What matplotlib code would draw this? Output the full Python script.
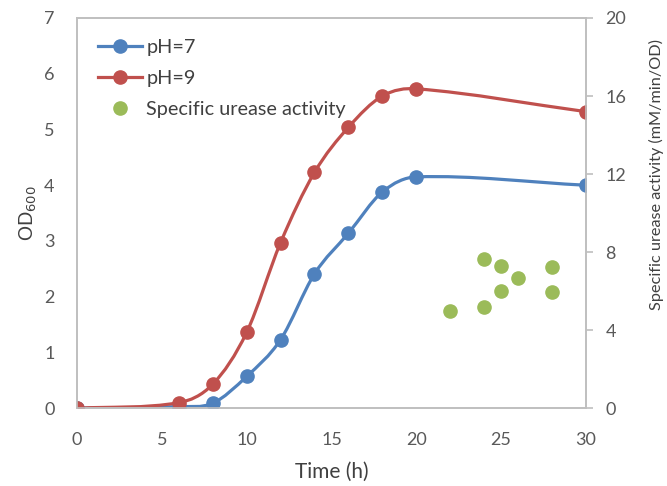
import numpy as np
import matplotlib
matplotlib.use("Agg")
from matplotlib import pyplot as plt
from matplotlib.path import Path
from matplotlib.patches import PathPatch
from matplotlib.lines import Line2D

# growth curves (OD600)
time_h = [0, 6, 8, 10, 12, 14, 16, 18, 20, 30]
od_ph7 = [0.0, 0.03, 0.09, 0.57, 1.23, 2.41, 3.14, 3.88, 4.15, 4.0]
od_ph9 = [0.0, 0.1, 0.43, 1.36, 2.97, 4.23, 5.04, 5.6, 5.73, 5.32]

# specific urease activity (mM/min/OD)
act_time = [22, 24, 24, 25, 25, 26, 28, 28]
act_value = [4.96, 7.67, 5.2, 7.3, 6.0, 6.65, 7.25, 5.98]

blue = "#4F81BD"
red = "#C0504D"
green = "#9BBB59"
grey = "#BFBFBF"
txt = "#404040"

plt.rcParams["font.family"] = ["Lato", "DejaVu Sans"]


def smooth_path(xs, ys):
    # smoothed line drawn as bezier segments, handles a third of each segment
    xs = np.asarray(xs, float)
    ys = np.asarray(ys, float)
    n = len(xs)
    slope = np.zeros(n)
    for i in range(n):
        a = max(i - 1, 0)
        b = min(i + 1, n - 1)
        slope[i] = (ys[b] - ys[a]) / (xs[b] - xs[a])
    verts = [(xs[0], ys[0])]
    codes = [Path.MOVETO]
    for i in range(n - 1):
        h = xs[i + 1] - xs[i]
        verts += [(xs[i] + h / 3, ys[i] + slope[i] * h / 3),
                  (xs[i + 1] - h / 3, ys[i + 1] - slope[i + 1] * h / 3),
                  (xs[i + 1], ys[i + 1])]
        codes += [Path.CURVE4] * 3
    return Path(verts, codes)


fig = plt.figure(figsize=(6.67, 4.86), dpi=100)
ax = fig.add_axes([0.1154, 0.160, 0.7631, 0.803])
ax2 = ax.twinx()

for ys, col in [(od_ph7, blue), (od_ph9, red)]:
    ax.add_patch(PathPatch(smooth_path(time_h, ys), facecolor="none",
                           edgecolor=col, lw=2.3, zorder=2))
    ax.plot(time_h, ys, "o", color=col, ms=9.5, zorder=3)

ax2.plot(act_time, act_value, "o", color=green, ms=9.5, zorder=3)

ax.set_xlim(0, 30)
ax.set_ylim(0, 7)
ax2.set_ylim(0, 20)
ax.set_xticks(range(0, 31, 5))
ax.set_yticks(range(0, 8))
ax2.set_yticks(range(0, 21, 4))

for a in (ax, ax2):
    for s in a.spines.values():
        s.set_color(grey)
        s.set_linewidth(1.2)
ax.tick_params(axis="x", length=0, labelsize=13, labelcolor="#595959", pad=17)
ax.tick_params(axis="y", length=0, labelsize=13, labelcolor="#595959", pad=16)
ax2.tick_params(axis="y", length=5, width=1.2, color=grey, labelsize=13,
                labelcolor="#595959", pad=9)

ax.set_xlabel("Time (h)", fontsize=15, color=txt, labelpad=10)
ax.set_ylabel("OD$_{600}$", fontsize=13.5, color=txt, labelpad=4)
ax2.set_ylabel("Specific urease activity (mM/min/OD)", fontsize=11.7, color=txt)
ax2.yaxis.set_label_coords(1.123, 0.6)

handles = [
    Line2D([], [], color=blue, lw=2.3, marker="o", ms=9.5),
    Line2D([], [], color=red, lw=2.3, marker="o", ms=9.5),
    Line2D([], [], color=green, lw=0, marker="o", ms=9.5),
]
ax.legend(handles, ["pH=7", "pH=9", "Specific urease activity"], loc="upper left",
          frameon=False, fontsize=14.3, labelcolor=txt, handlelength=2.2,
          handletextpad=0.25, labelspacing=0.72, borderaxespad=0.65)

fig.savefig("out.png", dpi=100)
